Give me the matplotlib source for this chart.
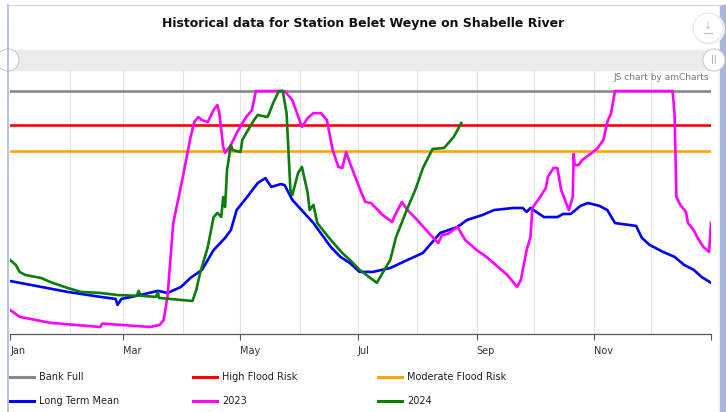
import matplotlib.pyplot as plt
from matplotlib.lines import Line2D
from matplotlib.patches import Rectangle, Ellipse

# threshold levels (m)
bank_full = 8.3
high_flood = 7.0
moderate_flood = 6.0

# long term mean: day of year, level
mean_day = [0, 30, 47, 55, 56, 58, 66, 77, 82, 89, 94, 100, 106, 112, 115, 118, 123, 129, 133, 136,
            141, 143, 147, 158, 167, 172, 177, 182, 189, 198, 207, 215, 224, 233, 238, 246, 252,
            262, 267, 269, 271, 278, 285, 288, 292, 297, 301, 307, 311, 315, 326, 329, 333, 340,
            346, 351, 356, 360, 365]
mean_lvl = [0.99, 0.57, 0.38, 0.30, 0.07, 0.30, 0.42, 0.61, 0.53, 0.76, 1.11, 1.42, 2.18, 2.65, 2.95,
            3.72, 4.18, 4.76, 4.95, 4.61, 4.72, 4.68, 4.11, 3.22, 2.30, 1.92, 1.68, 1.34, 1.34, 1.49,
            1.80, 2.07, 2.84, 3.07, 3.34, 3.53, 3.72, 3.80, 3.80, 3.65, 3.80, 3.45, 3.45, 3.57, 3.57,
            3.88, 3.99, 3.88, 3.72, 3.22, 3.11, 2.65, 2.38, 2.11, 1.92, 1.61, 1.42, 1.15, 0.92]

# 2023
y23_day = [0, 5, 21, 47, 48, 73, 78, 80, 82, 85, 90, 94, 96, 98, 100, 103, 106, 108, 109, 111,
           112, 115, 118, 121, 123, 126, 128, 143, 147, 152, 155, 158, 162, 165, 168, 171, 173,
           175, 177, 183, 185, 188, 194, 199, 200, 204, 207, 212, 219, 223, 225, 228, 233, 237,
           243, 248, 259, 264, 266, 269, 271, 272, 276, 279, 280, 283, 285, 287, 291, 293, 293.5,
           294, 296, 298, 300, 303, 306, 309, 311, 313, 315, 345, 346, 347, 349, 352, 353, 356,
           358, 361, 363, 364, 365]
y23_lvl = [-0.12, -0.39, -0.62, -0.78, -0.65, -0.78, -0.70, -0.51, 0.38, 3.22, 4.99, 6.53, 7.11,
           7.30, 7.18, 7.11, 7.57, 7.76, 7.45, 6.15, 5.92, 6.22, 6.68, 7.07, 7.30, 7.57, 8.30,
           8.30, 7.95, 6.92, 7.26, 7.45, 7.45, 7.18, 6.03, 5.38, 5.34, 5.95, 5.53, 4.38, 4.03,
           3.99, 3.53, 3.26, 3.45, 4.03, 3.72, 3.34, 2.76, 2.45, 2.76, 2.80, 3.07, 2.57, 2.18,
           1.92, 1.22, 0.76, 1.03, 2.18, 2.68, 3.80, 4.22, 4.57, 4.99, 5.34, 5.34, 4.49, 3.72,
           4.22, 5.88, 5.45, 5.45, 5.65, 5.76, 5.92, 6.11, 6.42, 7.11, 7.45, 8.30, 8.30, 7.45,
           4.22, 3.92, 3.65, 3.22, 2.95, 2.65, 2.30, 2.18, 2.11, 3.22]

# 2024
y24_day = [0, 3, 5, 8, 16, 21, 30, 37, 47, 56, 66, 67, 68, 76, 77, 77.5, 89, 95, 97, 99, 103,
           106, 108, 110, 111, 112, 113, 115, 116, 120, 121, 123, 127, 129, 134, 135, 137, 140,
           142, 144, 146, 147, 150, 152, 155, 156, 158, 160, 167, 173, 177, 182, 191, 194, 198,
           201, 207, 211, 215, 220, 226, 231, 235]
y24_lvl = [1.80, 1.61, 1.34, 1.22, 1.11, 0.95, 0.72, 0.57, 0.53, 0.45, 0.42, 0.61, 0.42, 0.38,
           0.57, 0.34, 0.26, 0.22, 0.65, 1.30, 2.30, 3.45, 3.61, 3.45, 4.22, 3.84, 5.26, 6.22,
           6.03, 5.95, 6.42, 6.68, 7.18, 7.38, 7.30, 7.45, 7.84, 8.30, 8.30, 7.45, 4.49, 4.30,
           5.15, 5.38, 4.38, 3.72, 3.92, 3.22, 2.57, 2.07, 1.80, 1.42, 0.92, 1.30, 1.80, 2.68,
           3.80, 4.49, 5.34, 6.07, 6.11, 6.53, 7.07]

month_starts = [0, 31, 59, 90, 120, 151, 181, 212, 243, 273, 304, 334]
month_names = ['Jan', 'Feb', 'Mar', 'Apr', 'May', 'Jun', 'Jul', 'Aug', 'Sep', 'Oct', 'Nov', 'Dec']

fig = plt.figure(figsize=(7.26, 4.12), dpi=100)
W, H = 726, 412


def fx(px):
    return px / W


def fy(py):
    return 1 - py / H


def circle(cx, cy, r, **kw):
    # round in pixels, placed in figure coords
    e = Ellipse((fx(cx), fy(cy)), 2 * r / W, 2 * r / H, transform=fig.transFigure, **kw)
    fig.patches.append(e)


ax = fig.add_axes([fx(10), fy(334), fx(711) - fx(10), fy(70) - fy(334)])

# month grid
for d in month_starts[1:]:
    ax.axvline(d, color='#e3e3e3', lw=0.8, zorder=0)

lw = 1.9
ax.axhline(bank_full, color='#888888', lw=lw)
ax.axhline(high_flood, color='#ff0000', lw=lw)
ax.axhline(moderate_flood, color='#ffa500', lw=lw)
ax.plot(mean_day, mean_lvl, color='#0000ff', lw=lw)
ax.plot(y23_day, y23_lvl, color='#ff00ff', lw=lw)
ax.plot(y24_day, y24_lvl, color='#0a7d0a', lw=lw)

ax.set_xlim(0, 365)
ax.set_ylim(-1.05, 9.11)
ax.set_yticks([])
for s in ['left', 'right', 'top']:
    ax.spines[s].set_visible(False)
ax.spines['bottom'].set_color('#555555')
ax.spines['bottom'].set_linewidth(0.9)
ax.set_xticks(month_starts[::2] + [365])
ax.set_xticklabels(month_names[::2] + [''], ha='left', fontsize=7, color='#333333')
ax.tick_params(axis='x', length=4, color='#555555', pad=5)

# title
fig.text(0.5, fy(24), 'Historical data for Station Belet Weyne on Shabelle River',
         ha='center', va='center', fontsize=9, fontweight='bold', color='#111111')

# scrollbar
fig.patches.append(Rectangle((fx(10), fy(70)), fx(718) - fx(10), fy(50) - fy(70),
                             transform=fig.transFigure, color='#ebebeb', zorder=0))
for cx in [8, 714]:
    circle(cx, 60, 11, facecolor='white', edgecolor='#cccccc', lw=0.8, zorder=1)
fig.text(fx(714), fy(60), '||', ha='center', va='center', fontsize=6, color='#999999')

# export button
circle(709, 29, 16, facecolor='#f2f2f2', edgecolor='none', zorder=1)
circle(708, 28, 15, facecolor='white', edgecolor='#e6e6e6', lw=0.8, zorder=1)
fig.text(fx(708), fy(26), '\u2193', ha='center', va='center', fontsize=7, color='#c0c0c0')
fig.add_artist(Line2D([fx(704), fx(712)], [fy(33), fy(33)], color='#c0c0c0', lw=0.9))
fig.text(fx(709), fy(78), 'JS chart by amCharts', ha='right', va='center', fontsize=6.5,
         color='#777777')

# frame
fig.add_artist(Line2D([fx(8), fx(8)], [0, fy(5)], color='#aab6dc', lw=1.2))
fig.add_artist(Line2D([fx(8), fx(721)], [fy(5), fy(5)], color='#d5d5d5', lw=0.8))
fig.patches.append(Rectangle((fx(720), 0), fx(5), fy(5), transform=fig.transFigure,
                             color='#aab6dc', zorder=0))

# legend
legend_items = [('Bank Full', '#888888'), ('High Flood Risk', '#ff0000'),
                ('Moderate Flood Risk', '#ffa500'), ('Long Term Mean', '#0000ff'),
                ('2023', '#ff00ff'), ('2024', '#0a7d0a')]
col_x = [10, 193, 378]
row_y = [377, 401]
for i, (name, c) in enumerate(legend_items):
    x0 = col_x[i % 3]
    y0 = row_y[i // 3]
    fig.add_artist(Line2D([fx(x0), fx(x0 + 24)], [fy(y0), fy(y0)], color=c, lw=2.2))
    fig.text(fx(x0 + 29), fy(y0), name, ha='left', va='center', fontsize=7, color='#222222')

fig.savefig('out.png', dpi=100)
